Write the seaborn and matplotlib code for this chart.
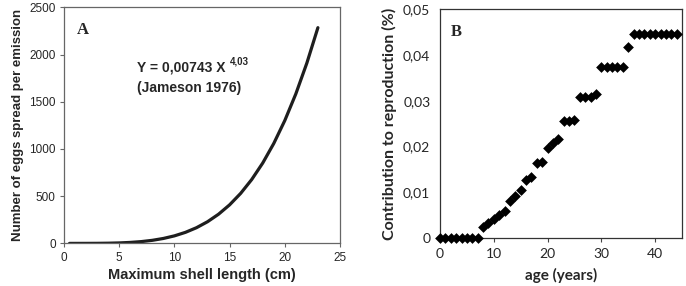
import numpy as np
import pandas as pd
import matplotlib
matplotlib.use("Agg")
import matplotlib.pyplot as plt
import seaborn as sns

# Panel A: fecundity curve (Y = 0,00743 X^4,03)
shell_length = [0.5, 1, 2, 3, 4, 5, 6, 7, 8, 9, 10, 11, 12, 13, 14, 15,
                16, 17, 18, 19, 20, 21, 22, 23]
eggs = [0.0, 0.01, 0.12, 0.6, 2.0, 4.9, 10.2, 18.9, 32.4, 52.1, 79.6, 116.9,
        166.0, 229.2, 309.0, 408.0, 529.2, 675.6, 850.6, 1057.8, 1300.6,
        1583.1, 1909.7, 2284.2]

# Panel B: contribution to reproduction by age
age = list(range(0, 45))
contribution = [0, 0, 0, 0, 0, 0, 0, 0,
                0.0023, 0.0032, 0.0041, 0.0050, 0.0060, 0.0080, 0.0091, 0.0104,
                0.0127, 0.0133, 0.0165, 0.0166, 0.0197, 0.0207, 0.0217,
                0.0255, 0.0255, 0.0258, 0.0309, 0.0309, 0.0309, 0.0315,
                0.0373, 0.0373, 0.0373, 0.0373, 0.0373, 0.0418,
                0.0447, 0.0447, 0.0447, 0.0447, 0.0447, 0.0447, 0.0447, 0.0447, 0.0447]

xticks_a = [0, 5, 10, 15, 20, 25]
yticks_a = [0, 500, 1000, 1500, 2000, 2500]
xticks_b = [0, 10, 20, 30, 40]
yticks_b = [0, 0.01, 0.02, 0.03, 0.04, 0.05]
yticklabels_b = ["0", "0,01", "0,02", "0,03", "0,04", "0,05"]

sns.set_theme(style="white")
plt.rcParams['font.family'] = ['Liberation Sans', 'DejaVu Sans']

fig = plt.figure(figsize=(6.86, 2.86), dpi=100)
axA = fig.add_axes([0.0933, 0.149, 0.4023, 0.8255])
axB = fig.add_axes([0.6414, 0.1678, 0.3528, 0.7997])

dfA = pd.DataFrame({"x": shell_length, "y": eggs})
sns.lineplot(data=dfA, x="x", y="y", ax=axA, color="#1e1e1e", linewidth=2.3)
axA.set_xlim(0, 25)
axA.set_ylim(0, 2500)
axA.set_xticks(xticks_a)
axA.set_yticks(yticks_a)
axA.tick_params(axis="both", labelsize=8.5, length=3, width=0.8, color="#666666",
                direction="out", pad=3, bottom=True, left=True)
for s in axA.spines.values():
    s.set_color("#666666")
    s.set_linewidth(0.9)
axA.set_xlabel("Maximum shell length (cm)", fontsize=10.5, fontweight="bold", labelpad=3)
axA.set_ylabel("Number of eggs spread per emission", fontsize=9.5, fontweight="bold", labelpad=4)
axA.text(0.048, 0.905, "A", transform=axA.transAxes, fontsize=12, fontweight="bold",
         family=["Liberation Serif"], va="center", ha="left")
axA.text(0.265, 0.745, "Y = 0,00743 X", transform=axA.transAxes,
         fontsize=10, fontweight="bold", va="center", ha="left")
axA.text(0.6, 0.772, "4,03", transform=axA.transAxes,
         fontsize=7, fontweight="bold", va="center", ha="left")
axA.text(0.265, 0.66, "(Jameson 1976)", transform=axA.transAxes,
         fontsize=10, fontweight="bold", va="center", ha="left")

dfB = pd.DataFrame({"age": age, "c": contribution})
sns.scatterplot(data=dfB, x="age", y="c", ax=axB, marker="D", s=30,
                color="black", edgecolor="black", linewidth=0, clip_on=False, zorder=3)
axB.set_xlim(0, 45)
axB.set_ylim(0, 0.05)
axB.set_xticks(xticks_b)
axB.set_yticks(yticks_b)
axB.set_yticklabels(yticklabels_b)
axB.tick_params(axis="both", labelsize=10, length=3, width=0.8, color="#444444",
                direction="out", pad=4, bottom=True, left=False)
for lab in axB.get_xticklabels() + axB.get_yticklabels():
    lab.set_family(["Lato", "DejaVu Sans"])
for s in axB.spines.values():
    s.set_color("#333333")
    s.set_linewidth(0.9)
axB.set_xlabel("age (years)", fontsize=11, fontweight="bold", family=["Lato"], labelpad=6)
axB.set_ylabel("Contribution to reproduction (%)", fontsize=11.5, fontweight="bold",
               family=["Lato"], labelpad=4)
axB.text(0.045, 0.9, "B", transform=axB.transAxes, fontsize=12, fontweight="bold",
         family=["Liberation Serif"], va="center", ha="left")

fig.savefig("out.png", dpi=100)
